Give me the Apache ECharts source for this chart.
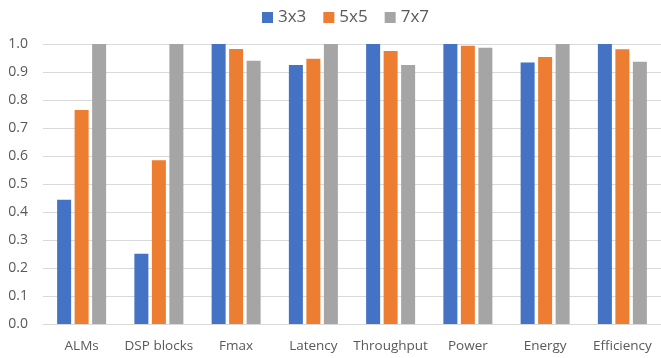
<!DOCTYPE html>
<html><head><meta charset="utf-8">
<script src="https://cdn.jsdelivr.net/npm/echarts@6/dist/echarts.min.js"></script>
<style>html,body{margin:0;padding:0;background:#fff}#c{width:661px;height:358px}</style>
</head><body><div id="c"></div>
<script>
const categories = ['ALMs','DSP blocks','Fmax','Latency','Throughput','Power','Energy','Efficiency'];
const s3x3 = [0.444, 0.251, 1.0, 0.925, 1.0, 1.0, 0.934, 1.0];
const s5x5 = [0.764, 0.585, 0.982, 0.947, 0.975, 0.994, 0.954, 0.981];
const s7x7 = [1.0, 1.0, 0.940, 1.0, 0.925, 0.987, 1.0, 0.937];
const seriesNames = ['3x3','5x5','7x7'];
const colors = ['#4472C4','#ED7D31','#A5A5A5'];
const font = 'Open Sans';
const chart = echarts.init(document.getElementById('c'));
chart.setOption({
  animation:false,
  color:colors,
  textStyle:{fontFamily:font},
  legend:{top:4,left:257,itemWidth:11,itemHeight:11,itemGap:17,icon:'rect',
    textStyle:{fontFamily:font,fontSize:17,color:'#595959'},data:seriesNames},
  grid:{left:43,top:44,width:621,height:280,containLabel:false},
  xAxis:{type:'category',data:categories,
    axisLine:{lineStyle:{color:'#d9d9d9'}},axisTick:{show:false},
    axisLabel:{fontFamily:font,fontSize:13.5,color:'#595959',margin:15,interval:0}},
  yAxis:{type:'value',min:0,max:1,interval:0.1,
    axisLabel:{fontFamily:font,fontSize:14,color:'#595959',margin:15,formatter:v=>v.toFixed(1)},
    splitLine:{lineStyle:{color:'#d9d9d9'}},axisLine:{show:false},axisTick:{show:false}},
  series:[
    {name:seriesNames[0],type:'bar',data:s3x3,barWidth:14,barGap:'25%'},
    {name:seriesNames[1],type:'bar',data:s5x5,barWidth:14,barGap:'25%'},
    {name:seriesNames[2],type:'bar',data:s7x7,barWidth:14,barGap:'25%'}
  ]
});
</script></body></html>
